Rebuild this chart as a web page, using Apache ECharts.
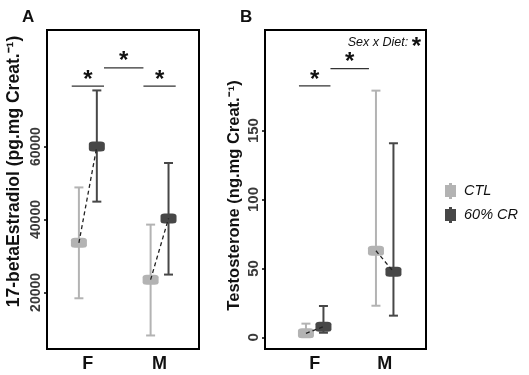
<!DOCTYPE html>
<html>
<head>
<meta charset="utf-8">
<script src="https://cdn.jsdelivr.net/npm/echarts@6/dist/echarts.min.js"></script>
<style>
  html, body { margin: 0; padding: 0; background: #fff; }
  #chart { width: 529px; height: 375px; }
</style>
</head>
<body>
<div id="chart"></div>
<script>
// categories and groups
const categories = ['F', 'M'];
const groups = ['CTL', '60% CR'];

// panel A: 17-beta estradiol, mean with low / high error bar ends (F, M)
const estradiolCtlMean = [33600, 23500];
const estradiolCtlLow = [18400, 8200];
const estradiolCtlHigh = [48800, 38600];
const estradiolCrMean = [60000, 40300];
const estradiolCrLow = [44900, 24900];
const estradiolCrHigh = [75400, 55500];
const estradiolTicks = [20000, 40000, 60000];
// significance brackets: [from, to, height]
const estradiolBrackets = [[0.775, 1.225, 76600], [1.225, 1.775, 81600], [1.775, 2.225, 76600]];

// panel B: testosterone
const testoCtlMean = [2.9, 62.8];
const testoCtlLow = [0.5, 22.9];
const testoCtlHigh = [9.9, 179];
const testoCrMean = [7.7, 47.6];
const testoCrLow = [3.3, 15.7];
const testoCrHigh = [22.7, 140.8];
const testoTicks = [0, 50, 100, 150];
const testoBrackets = [[0.775, 1.225, 182.4], [1.225, 1.775, 195]];

const colors = ['#b3b3b3', '#474747'];
const dodge = 0.125;
const font = 'Liberation Sans, Arial, sans-serif';

const panels = [
  {
    label: 'A', yName: '17-betaEstradiol (pg.mg Creat.\u207B\u00B9)',
    grid: { left: 47, top: 30, width: 152, height: 319 },
    xMin: 0.43, xMax: 2.55, yMin: 4490, yMax: 91970,
    ticks: estradiolTicks, tickFont: 14, nameFont: 17.5, nameGap: 24, namePad: [0, 0, 0, 36],
    means: [estradiolCtlMean, estradiolCrMean],
    lows: [estradiolCtlLow, estradiolCrLow],
    highs: [estradiolCtlHigh, estradiolCrHigh],
    brackets: estradiolBrackets
  },
  {
    label: 'B', yName: 'Testosterone (ng.mg Creat.\u207B\u00B9)',
    grid: { left: 265, top: 30, width: 161, height: 319 },
    xMin: 0.29, xMax: 2.59, yMin: -8.5, yMax: 223,
    ticks: testoTicks, tickFont: 15, nameFont: 16.5, nameGap: 22, namePad: [0, 12, 0, 0],
    means: [testoCtlMean, testoCrMean],
    lows: [testoCtlLow, testoCrLow],
    highs: [testoCtlHigh, testoCrHigh],
    brackets: testoBrackets
  }
];

function renderErrorBar(params, api) {
  const x = api.value(0);
  const lo = api.coord([x, api.value(1)]);
  const hi = api.coord([x, api.value(2)]);
  const half = 4.5;
  const style = { stroke: api.visual('color'), lineWidth: 2 };
  return {
    type: 'group',
    children: [
      { type: 'line', shape: { x1: lo[0], y1: lo[1], x2: hi[0], y2: hi[1] }, style: style },
      { type: 'line', shape: { x1: lo[0] - half, y1: lo[1], x2: lo[0] + half, y2: lo[1] }, style: style },
      { type: 'line', shape: { x1: hi[0] - half, y1: hi[1], x2: hi[0] + half, y2: hi[1] }, style: style }
    ]
  };
}

function renderBracket(params, api) {
  const p1 = api.coord([api.value(0), api.value(2)]);
  const p2 = api.coord([api.value(1), api.value(2)]);
  return {
    type: 'group',
    children: [
      { type: 'line', shape: { x1: p1[0], y1: p1[1], x2: p2[0], y2: p2[1] }, style: { stroke: '#333', lineWidth: 1.2 } },
      {
        type: 'text', x: (p1[0] + p2[0]) / 2, y: p1[1] + 6,
        style: { text: '*', fontSize: 24, fontWeight: 'bold', fontFamily: font, fill: '#111', align: 'center', verticalAlign: 'bottom' }
      }
    ]
  };
}

const grids = [], xAxes = [], yAxes = [], series = [], titles = [];

panels.forEach(function (p, i) {
  grids.push(Object.assign({ show: true, borderColor: '#000', borderWidth: 2, backgroundColor: 'transparent' }, p.grid));
  titles.push({
    text: p.label, left: p.grid.left - 30, top: 4,
    textStyle: { fontSize: 17, fontWeight: 'bold', color: '#111', fontFamily: font }
  });
  xAxes.push({
    type: 'value', gridIndex: i, min: p.xMin, max: p.xMax,
    axisLine: { show: false }, axisTick: { show: false }, splitLine: { show: false },
    axisLabel: {
      customValues: [1, 2], margin: 6,
      formatter: function (v) { return categories[Math.round(v) - 1]; },
      fontSize: 18, fontWeight: 'bold', color: '#111', fontFamily: font
    }
  });
  yAxes.push({
    type: 'value', gridIndex: i, min: p.yMin, max: p.yMax,
    name: p.yName, nameLocation: 'middle', nameGap: p.nameGap,
    nameTextStyle: { fontSize: p.nameFont, fontWeight: 'bold', color: '#111', fontFamily: font, padding: p.namePad },
    axisLine: { show: false }, splitLine: { show: false },
    axisTick: { show: true, customValues: p.ticks, length: 3, lineStyle: { color: '#000', width: 1.5 } },
    axisLabel: {
      customValues: p.ticks, rotate: 90, margin: 4,
      formatter: function (v) { return String(v); },
      fontSize: p.tickFont, fontWeight: 'bold', color: '#3a3a3a', fontFamily: font
    }
  });

  groups.forEach(function (g, k) {
    const off = k === 0 ? -dodge : dodge;
    series.push({
      name: g + ' error', type: 'custom', xAxisIndex: i, yAxisIndex: i,
      renderItem: renderErrorBar, itemStyle: { color: colors[k] }, z: 2,
      encode: { x: 0, y: [1, 2] },
      data: categories.map(function (c, j) { return [j + 1 + off, p.lows[k][j], p.highs[k][j]]; })
    });
    series.push({
      name: g, type: 'scatter', xAxisIndex: i, yAxisIndex: i,
      symbol: 'roundRect', symbolSize: [16, 10], itemStyle: { color: colors[k], opacity: 1 }, z: 3,
      data: categories.map(function (c, j) { return [j + 1 + off, p.means[k][j]]; })
    });
  });

  categories.forEach(function (c, j) {
    series.push({
      name: 'link ' + c, type: 'line', xAxisIndex: i, yAxisIndex: i,
      symbol: 'none', z: 4, silent: true,
      lineStyle: { type: [4, 3], width: 1.3, color: '#222' },
      data: [[j + 1 - dodge, p.means[0][j]], [j + 1 + dodge, p.means[1][j]]]
    });
  });

  series.push({
    name: 'brackets', type: 'custom', xAxisIndex: i, yAxisIndex: i,
    renderItem: renderBracket, z: 5, silent: true,
    encode: { x: [0, 1], y: 2 },
    data: p.brackets
  });
});

const chart = echarts.init(document.getElementById('chart'));
chart.setOption({
  animation: false,
  backgroundColor: '#fff',
  title: titles,
  grid: grids,
  xAxis: xAxes,
  yAxis: yAxes,
  legend: {
    data: groups, orient: 'vertical', left: 440, top: 178,
    itemWidth: 11, itemHeight: 16, itemGap: 8,
    icon: 'path://M4,0L7,0L7,2L11,2L11,14L7,14L7,16L4,16L4,14L0,14L0,2L4,2Z',
    textStyle: { fontSize: 14.5, fontStyle: 'italic', color: '#111', fontFamily: font, padding: [0, 0, 0, 3] }
  },
  graphic: [{
    type: 'text', x: 421, y: 43,
    style: {
      text: '{t|Sex x Diet: }{s|*}',
      align: 'right', verticalAlign: 'middle',
      rich: {
        t: { fontSize: 12.5, fontStyle: 'italic', fill: '#111', fontFamily: font },
        s: { fontSize: 24, fontWeight: 'bold', fill: '#111', fontFamily: font, padding: [9, 0, 0, 0] }
      }
    }
  }],
  series: series
});
</script>
</body>
</html>
